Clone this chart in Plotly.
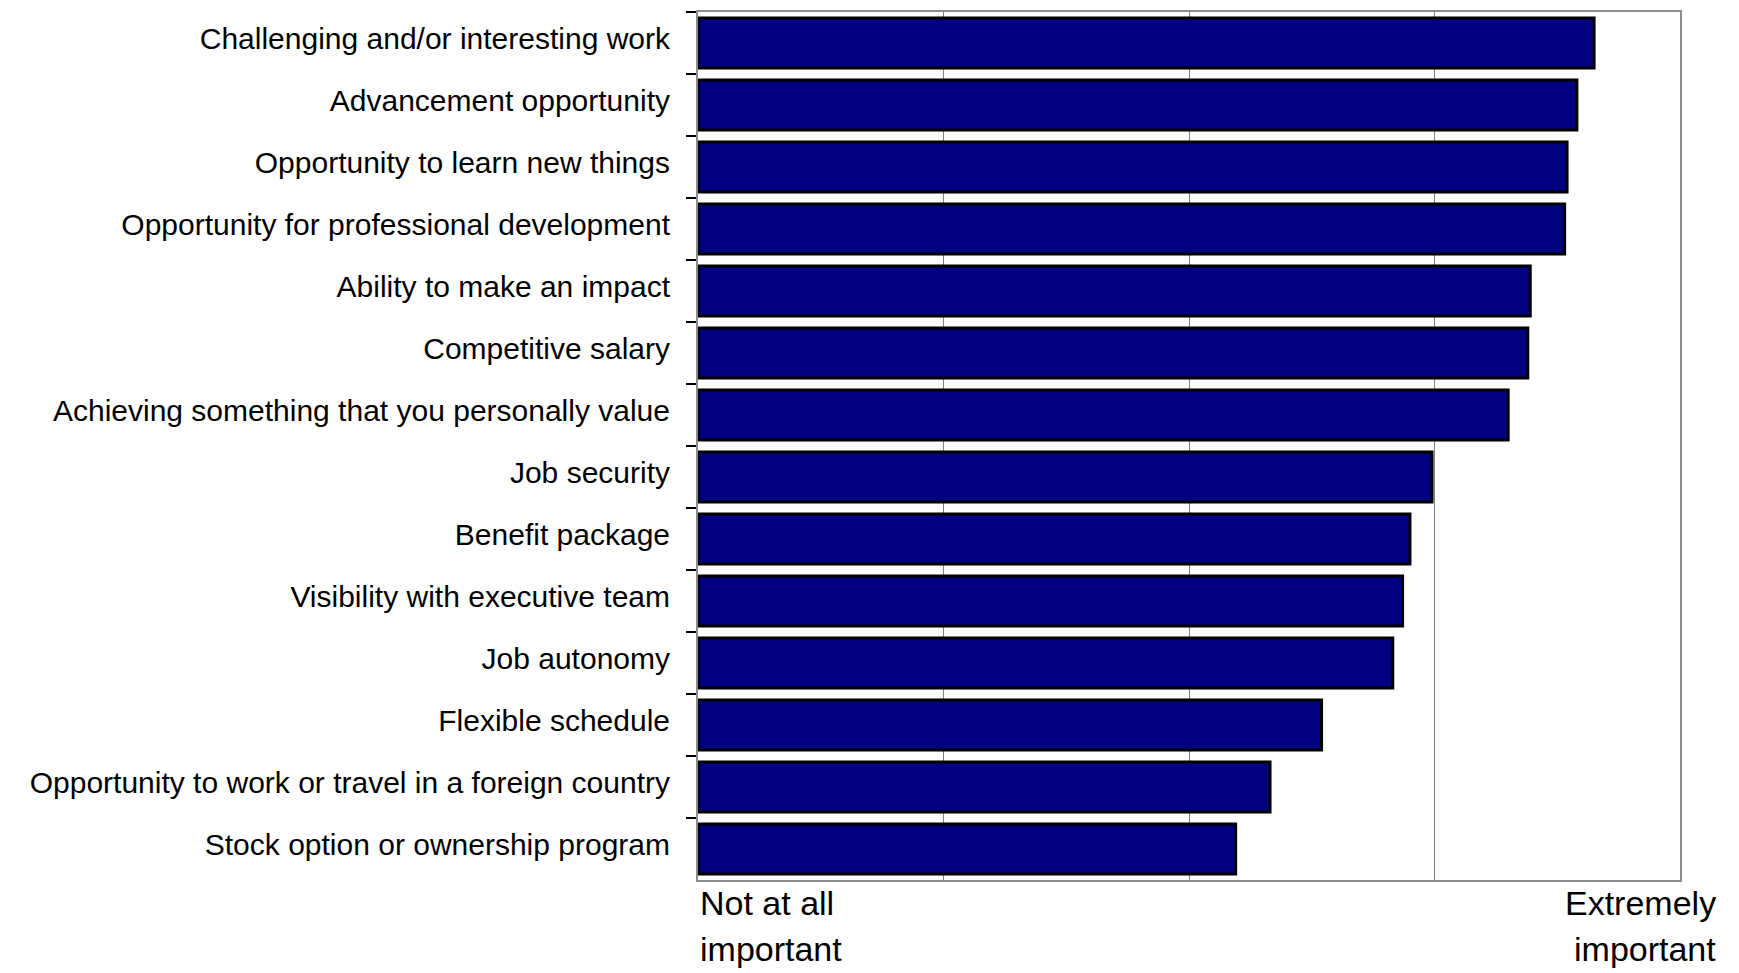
import plotly.graph_objects as go

# Job factor ratings on a 1 (not at all important) to 5 (extremely important) scale
factors = [
    "Challenging and/or interesting work",
    "Advancement opportunity",
    "Opportunity to learn new things",
    "Opportunity for professional development",
    "Ability to make an impact",
    "Competitive salary",
    "Achieving something that you personally value",
    "Job security",
    "Benefit package",
    "Visibility with executive team",
    "Job autonomy",
    "Flexible schedule",
    "Opportunity to work or travel in a foreign country",
    "Stock option or ownership program",
]
ratings = [4.65, 4.58, 4.54, 4.53, 4.39, 4.38, 4.30, 3.99, 3.90, 3.87, 3.83, 3.54, 3.33, 3.19]

scale_min, scale_max = 1, 5
scale_low_lines = ["Not at all", "important"]
scale_high_lines = ["Extremely", "important"]

FONT = "Liberation Sans, Arial, sans-serif"

W, H = 1739, 973
M_L, M_R, M_T, M_B = 698, 59, 10, 93
LINE_PX = 46

fig = go.Figure(
    go.Bar(
        y=factors,
        x=[r - scale_min for r in ratings],
        base=scale_min,
        orientation="h",
        marker=dict(color="#000080", line=dict(color="#000000", width=3)),
        hoverinfo="skip",
    )
)

annotations = []
for i, line in enumerate(scale_low_lines):
    annotations.append(dict(
        text=line, x=scale_min, xref="x", y=0, yref="paper",
        xanchor="left", yanchor="top", showarrow=False,
        yshift=-2 - i * LINE_PX,
        font=dict(family=FONT, size=34, color="black"),
    ))
for i, line in enumerate(scale_high_lines):
    annotations.append(dict(
        text=line, x=(1718 - M_L) / (W - M_L - M_R), xref="paper", y=0, yref="paper",
        xanchor="right", yanchor="top", showarrow=False,
        yshift=-2 - i * LINE_PX,
        font=dict(family=FONT, size=34, color="black"),
    ))

fig.update_layout(
    width=W,
    height=H,
    margin=dict(l=M_L, r=M_R, t=M_T, b=M_B),
    paper_bgcolor="white",
    plot_bgcolor="white",
    bargap=0.19,
    showlegend=False,
    font=dict(family=FONT, color="black"),
    xaxis=dict(
        range=[scale_min, scale_max],
        dtick=1,
        showticklabels=False,
        showgrid=True,
        gridcolor="#808080",
        gridwidth=1,
        zeroline=False,
        showline=True,
        linecolor="#8c8c8c",
        linewidth=2,
        mirror=True,
        ticks="",
    ),
    yaxis=dict(
        autorange="reversed",
        tickson="boundaries",
        ticks="outside",
        ticklen=10,
        tickwidth=1.5,
        tickcolor="#000000",
        showline=True,
        linecolor="#8c8c8c",
        linewidth=2,
        mirror=True,
        showgrid=False,
        tickfont=dict(family=FONT, size=30, color="black"),
        ticklabelstandoff=20,
        ticklabelshift=5,
    ),
    annotations=annotations,
)

fig.write_html("out.html")
